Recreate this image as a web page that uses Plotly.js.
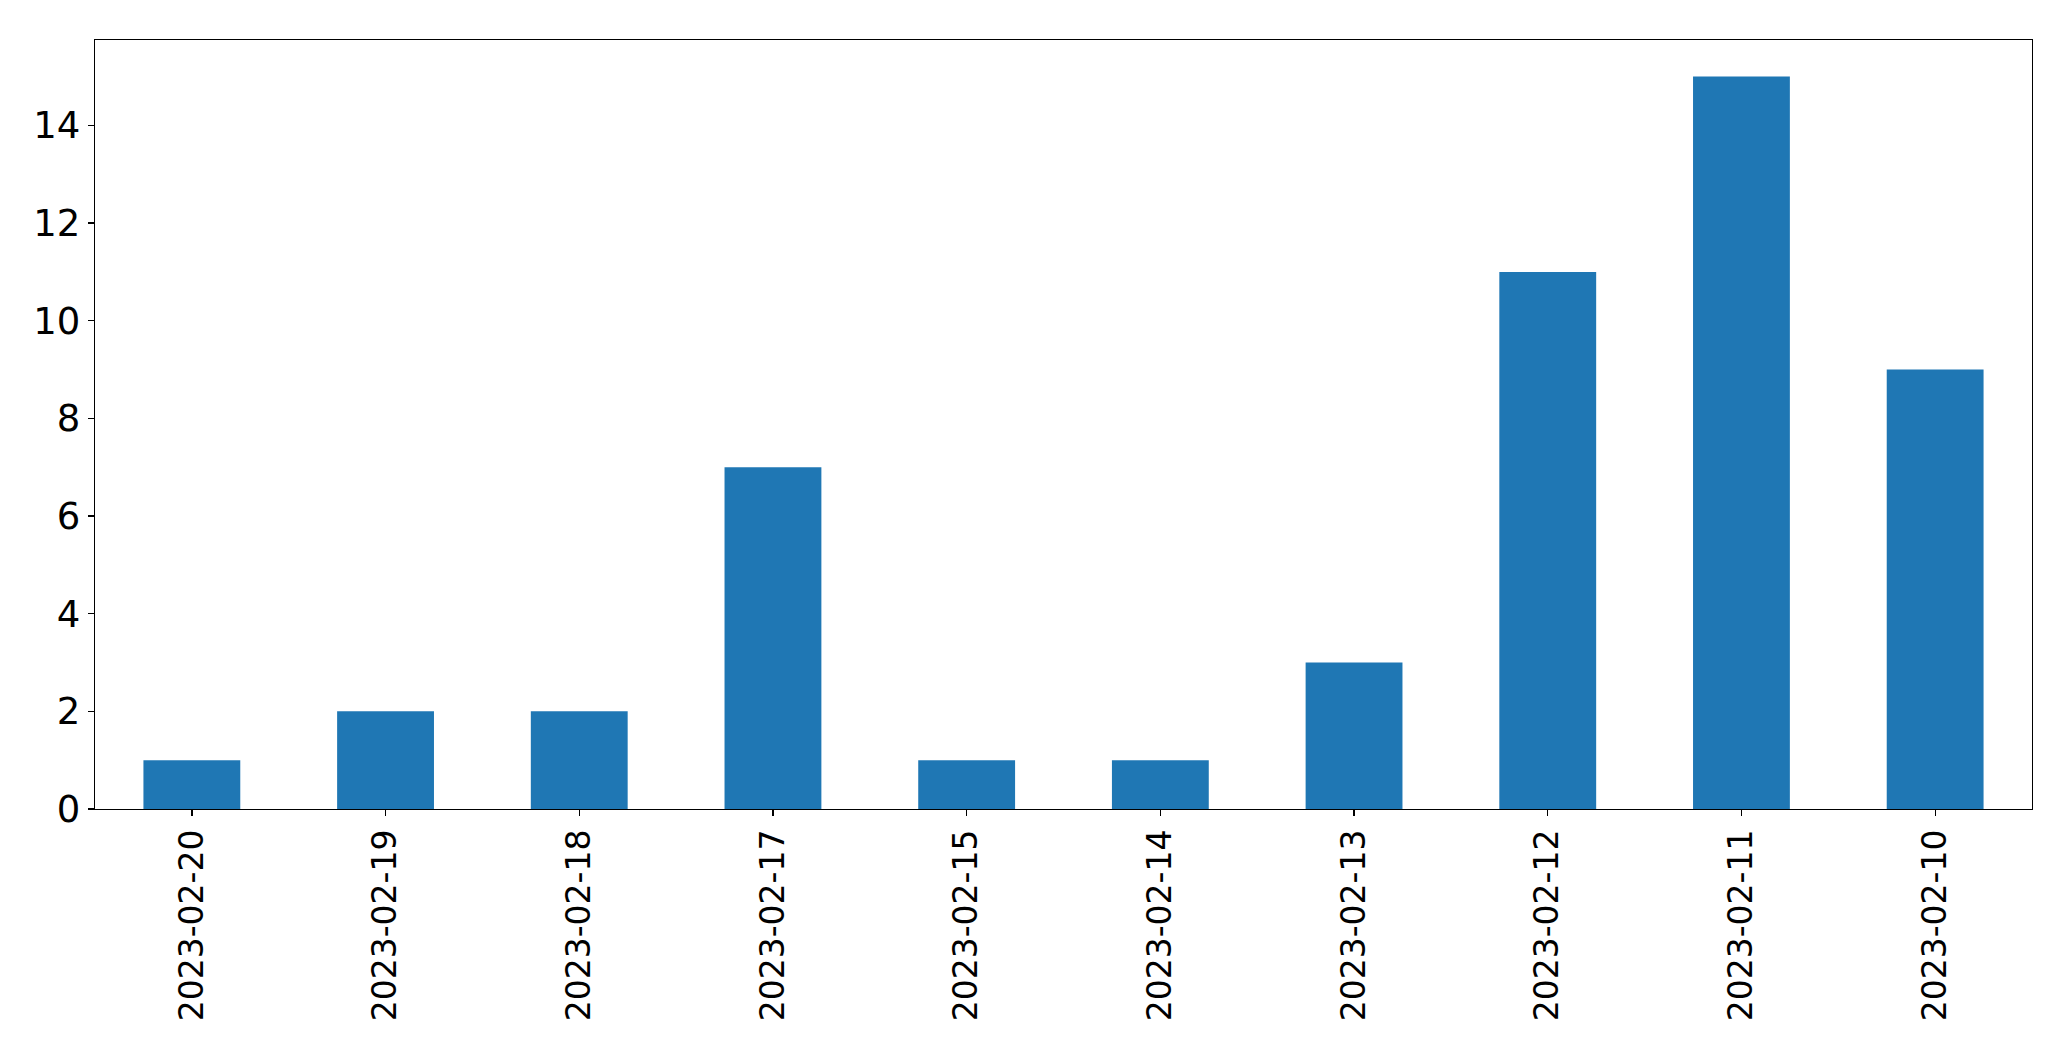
<!DOCTYPE html>
<html>
<head>
<meta charset="utf-8">
<script src="https://cdn.plot.ly/plotly-3.0.1.min.js"></script>
<style>html,body{margin:0;padding:0;background:#fff;}#chart{width:2071px;height:1061px;}</style>
</head>
<body>
<div id="chart"></div>
<script>
const categories = ["2023-02-20","2023-02-19","2023-02-18","2023-02-17","2023-02-15","2023-02-14","2023-02-13","2023-02-12","2023-02-11","2023-02-10"];
const counts = [1, 2, 2, 7, 1, 1, 3, 11, 15, 9];
const yTicks = [0, 2, 4, 6, 8, 10, 12, 14];

const trace = {
  type: 'bar',
  x: categories,
  y: counts,
  width: 0.5,
  marker: {color: '#1f77b4', line: {width: 0}},
  hoverinfo: 'x+y'
};

const layout = {
  width: 2071,
  height: 1061,
  margin: {l: 95, r: 39, t: 40, b: 252, pad: 0},
  paper_bgcolor: '#ffffff',
  plot_bgcolor: '#ffffff',
  showlegend: false,
  font: {family: 'DejaVu Sans', size: 33, color: '#000000'},
  xaxis: {
    type: 'category',
    range: [-0.5, categories.length - 0.5],
    showline: true, linecolor: '#000', linewidth: 1.3, mirror: true,
    ticks: 'outside', ticklen: 6, tickwidth: 1.3, tickcolor: '#000',
    tickangle: -90,
    showgrid: false, zeroline: false,
    tickfont: {family: 'DejaVu Sans', size: 33, color: '#000'}
  },
  yaxis: {
    range: [0, 15.75],
    tickvals: yTicks,
    ticktext: yTicks.map(String),
    showline: true, linecolor: '#000', linewidth: 1.3, mirror: true,
    ticks: 'outside', ticklen: 6, tickwidth: 1.3, tickcolor: '#000',
    showgrid: false, zeroline: false,
    tickfont: {family: 'DejaVu Sans', size: 37, color: '#000'}
  },
  bargap: 0.5
};

Plotly.newPlot('chart', [trace], layout, {displayModeBar: false, staticPlot: true});
</script>
</body>
</html>
